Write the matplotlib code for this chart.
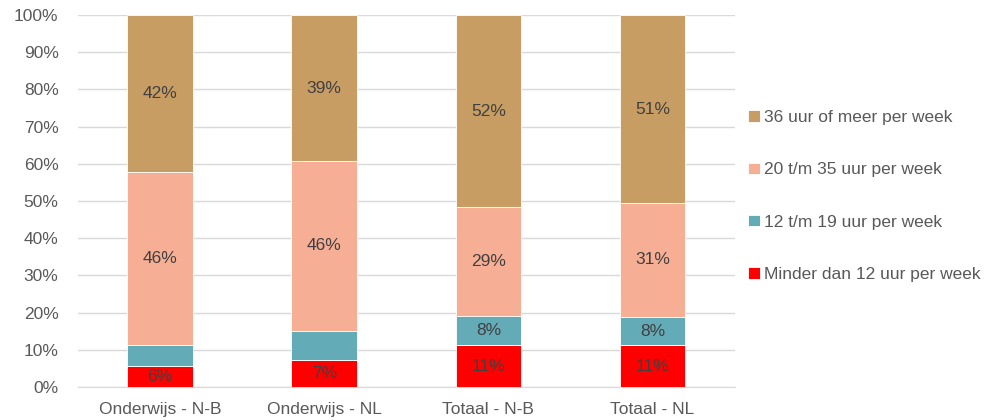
import matplotlib
matplotlib.use("Agg")
import matplotlib.pyplot as plt
import numpy as np

plt.rcParams['font.family'] = ['Liberation Sans', 'DejaVu Sans']

categories = ["Onderwijs - N-B", "Onderwijs - NL", "Totaal - N-B", "Totaal - NL"]
series_names = ["Minder dan 12 uur per week", "12 t/m 19 uur per week",
                "20 t/m 35 uur per week", "36 uur of meer per week"]
minder12 = [5.6, 7.3, 11.2, 11.2]
u12_19 = [5.8, 7.8, 7.9, 7.6]
u20_35 = [46.3, 45.7, 29.3, 30.7]
u36plus = [42.3, 39.2, 51.6, 50.5]
labels_shown = [
    ["6%", "7%", "11%", "11%"],
    ["", "", "8%", "8%"],
    ["46%", "46%", "29%", "31%"],
    ["42%", "39%", "52%", "51%"],
]
colors = ["#FF0000", "#63ABB6", "#F6AF95", "#C89D64"]

fig = plt.figure(figsize=(9.9, 4.2), dpi=100)
ax = fig.add_axes([0.0788, 0.0786, 0.6632, 0.8854])

x = np.arange(len(categories))
bottom = np.zeros(len(categories))
handles = []
for vals, name, col, labs in zip([minder12, u12_19, u20_35, u36plus], series_names, colors, labels_shown):
    vals = np.array(vals)
    b = ax.bar(x, vals, 0.4, bottom=bottom, color=col, edgecolor="white", linewidth=0.6,
               label=name, zorder=3)
    handles.append(b)
    for xi, v, bt, lab in zip(x, vals, bottom, labs):
        if lab:
            ax.text(xi, bt + v / 2, lab, ha="center", va="center", fontsize=12.5,
                    color="#404040", zorder=4)
    bottom += vals

ax.set_xlim(-0.5, 3.5)
ax.set_ylim(0, 100)
ax.set_yticks(np.arange(0, 101, 10))
ax.set_yticklabels([f"{v}%" for v in range(0, 101, 10)])
ax.set_xticks(x)
ax.set_xticklabels(categories)
ax.tick_params(axis="both", length=0, labelsize=12.5, labelcolor="#595959")
ax.tick_params(axis="y", pad=14)
ax.tick_params(axis="x", pad=11)
ax.grid(axis="y", color="#D9D9D9", linewidth=1, zorder=0)
for s in ["top", "right", "left"]:
    ax.spines[s].set_visible(False)
ax.spines["bottom"].set_color("#D9D9D9")

leg = fig.legend(handles[::-1], series_names[::-1], loc="center left",
                 bbox_to_anchor=(0.740, 0.533), frameon=False, fontsize=12.5,
                 handlelength=0.65, handleheight=0.65, handletextpad=0.25,
                 labelspacing=2.15, labelcolor="#595959")

fig.savefig("out.png", dpi=100)
